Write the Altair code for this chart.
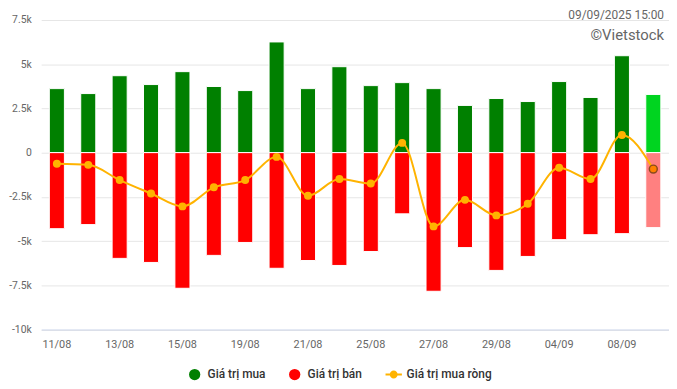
import altair as alt
import pandas as pd

dates = ["11/08", "12/08", "13/08", "14/08", "15/08", "18/08", "19/08", "20/08",
         "21/08", "22/08", "25/08", "26/08", "27/08", "28/08", "29/08", "03/09",
         "04/09", "05/09", "08/09", "09/09"]
mua = [3620, 3340, 4350, 3850, 4580, 3740, 3510, 6260, 3620, 4860,
       3790, 3960, 3620, 2670, 3060, 2890, 4020, 3120, 5480, 3290]
ban = [-4300, -4070, -5980, -6210, -7670, -5810, -5080, -6540, -6100, -6380,
       -5590, -3460, -7840, -5370, -6660, -5870, -4920, -4640, -4580, -4240]
rong = [-630, -690, -1550, -2310, -3040, -1960, -1550, -240, -2440, -1490,
        -1750, 550, -4170, -2670, -3550, -2890, -850, -1490, 1000, -930]
x_labels = ["11/08", "13/08", "15/08", "19/08", "21/08", "25/08", "27/08", "29/08", "04/09", "08/09"]
y_ticks = [-10000, -7500, -5000, -2500, 0, 2500, 5000, 7500]
series = ["Giá trị mua", "Giá trị bán", "Giá trị mua ròng"]
series_colors = ["#008000", "#ff0000", "#ffb300"]

df = pd.DataFrame({"date": dates, "mua": mua, "ban": ban, "rong": rong})
last = dates[-1]
is_last = f"datum.date == '{last}'"

W, H = 634, 312.5
FONT = "Roboto"

xenc = alt.X("date:N", sort=dates, scale=alt.Scale(domain=dates, paddingInner=0.52, paddingOuter=0.26),
             axis=alt.Axis(values=x_labels, labelAngle=0, title=None, ticks=False, grid=False,
                           domainColor="#ccd6eb", labelColor="#666666", labelFontSize=11,
                           labelPadding=9, labelFont=FONT))
yscale = alt.Scale(domain=[-10000, 7500], nice=False, zero=True)
yaxis = alt.Axis(values=y_ticks, title=None, ticks=False, domain=False, gridColor="#e6e6e6",
                 labelColor="#666666", labelFontSize=10.5, labelPadding=10, labelFont=FONT,
                 labelExpr="datum.value == 0 ? '0' : (datum.value < 0 ? '-' : '') + toString(abs(datum.value)/1000) + 'k'")

base = alt.Chart(df)
buy = base.mark_bar(stroke="white", strokeWidth=1).encode(
    x=xenc,
    y=alt.Y("mua:Q", scale=yscale, axis=yaxis),
    color=alt.condition(is_last, alt.value("#00d420"), alt.value("#008000")),
)
sell = base.mark_bar(stroke="white", strokeWidth=1).encode(
    x=alt.X("date:N", sort=dates),
    y=alt.Y("ban:Q"),
    color=alt.condition(is_last, alt.value("#ff8080"), alt.value("#ff0000")),
)
line = base.mark_line(interpolate="monotone", strokeWidth=2, color="#ffb300").encode(
    x=alt.X("date:N", sort=dates),
    y=alt.Y("rong:Q"),
)
pts = base.mark_point(filled=True, opacity=1).encode(
    x=alt.X("date:N", sort=dates),
    y=alt.Y("rong:Q"),
    fill=alt.condition(is_last, alt.value("#ff8000"), alt.value("#ffb300")),
    stroke=alt.condition(is_last, alt.value("#8b4a1c"), alt.value("#ffb300")),
    strokeWidth=alt.condition(is_last, alt.value(1.5), alt.value(0)),
    size=alt.value(64),
)

line_sym = ("M-1.45,-0.18L-0.62,-0.18L-0.62,0.18L-1.45,0.18Z"
            "M0.62,-0.18L1.45,-0.18L1.45,0.18L0.62,0.18Z"
            "M0.7,0A0.7,0.7,0,1,1,-0.7,0A0.7,0.7,0,1,1,0.7,0Z")
leg_df = pd.DataFrame({"s": series, "date": [dates[0]] * 3, "v": [0, 0, 0]})
legend_layer = alt.Chart(leg_df).mark_point(filled=True, opacity=0).encode(
    x=alt.X("date:N", sort=dates),
    y=alt.Y("v:Q"),
    color=alt.Color("s:N", scale=alt.Scale(domain=series, range=series_colors),
                    legend=alt.Legend(orient="none", legendX=149, legendY=352, direction="horizontal",
                                      title=None, symbolOpacity=1, symbolSize=130, symbolStrokeWidth=0,
                                      labelFontSize=12, labelColor="#333333", labelFont=FONT,
                                      labelFontWeight=500, labelOffset=7, columnPadding=23)),
    shape=alt.Shape("s:N", scale=alt.Scale(domain=series, range=["circle", "circle", line_sym]), legend=None),
)

vietstock = alt.Chart(pd.DataFrame({"t": ["©Vietstock"]})).mark_text(
    align="right", baseline="middle", fontSize=15, color="#666666", font=FONT
).encode(text="t:N", x=alt.value(W - 5), y=alt.value(15))

chart = alt.layer(buy, sell, line, pts, legend_layer, vietstock).properties(
    width=W, height=H,
    autosize=alt.AutoSizeParams(type="none"),
    padding={"left": 33.5, "top": 10.3, "right": 0, "bottom": 50},
    title=alt.TitleParams("09/09/2025 15:00", anchor="end", fontSize=12, fontWeight="normal",
                          color="#666666", font=FONT, offset=-7, dx=-5),
).configure_view(stroke=None)

chart.save("out.html", embed_options={"renderer": "svg", "actions": False})
